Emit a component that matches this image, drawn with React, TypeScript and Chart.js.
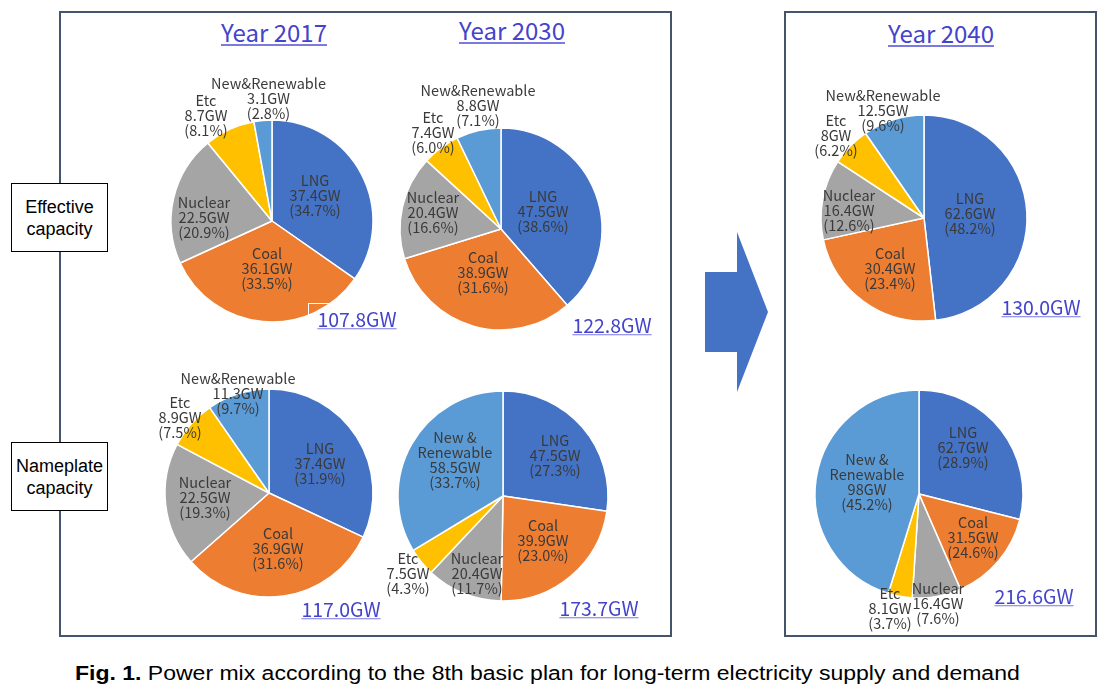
import React, { useEffect, useRef } from "react";
import { Chart, registerables } from "chart.js";

Chart.register(...registerables);

// ---------- DATA ----------
const categoriesShort = ["LNG", "Coal", "Nuclear", "Etc", "New&Renewable"];
const categoriesSplit = ["LNG", "Coal", "Nuclear", "Etc", "New &\nRenewable"];

const eff2017 = [37.4, 36.1, 22.5, 8.7, 3.1];
const eff2017Pct = ["34.7%", "33.5%", "20.9%", "8.1%", "2.8%"];
const eff2030 = [47.5, 38.9, 20.4, 7.4, 8.8];
const eff2030Pct = ["38.6%", "31.6%", "16.6%", "6.0%", "7.1%"];
const eff2040 = [62.6, 30.4, 16.4, 8, 12.5];
const eff2040Pct = ["48.2%", "23.4%", "12.6%", "6.2%", "9.6%"];

const np2017 = [37.4, 36.9, 22.5, 8.9, 11.3];
const np2017Pct = ["31.9%", "31.6%", "19.3%", "7.5%", "9.7%"];
const np2030 = [47.5, 39.9, 20.4, 7.5, 58.5];
const np2030Pct = ["27.3%", "23.0%", "11.7%", "4.3%", "33.7%"];
const np2040 = [62.7, 31.5, 16.4, 8.1, 98];
const np2040Pct = ["28.9%", "24.6%", "7.6%", "3.7%", "45.2%"];

const totals = ["107.8GW", "122.8GW", "130.0GW", "117.0GW", "173.7GW", "216.6GW"];
const yearTitles = ["Year 2017", "Year 2030", "Year 2040"];

const COLORS = ["#4472C4", "#ED7D31", "#A5A5A5", "#FFC000", "#5B9BD5"];

// ---------- LAYOUT ----------
const CANVAS = 330;
const pies = [
  { values: eff2017, pct: eff2017Pct, names: categoriesShort, cx: 271.5, cy: 221, r: 101,
    offs: [[43, -26], [-5, 47], [-68, -4], [-66, -106], [-3.5, -123]], total: [357, 319] },
  { values: eff2030, pct: eff2030Pct, names: categoriesShort, cx: 501, cy: 229, r: 101,
    offs: [[42, -18], [-18, 43], [-68, -17], [-68, -97], [-23, -124]], total: [612, 325] },
  { values: eff2040, pct: eff2040Pct, names: categoriesShort, cx: 924, cy: 218, r: 103,
    offs: [[46, -5], [-34, 50], [-75, -8], [-88, -83], [-41, -108]], total: [1041, 307] },
  { values: np2017, pct: np2017Pct, names: categoriesShort, cx: 269, cy: 493, r: 104,
    offs: [[51, -30], [9, 55], [-64, 4], [-89, -76], [-31, -100]], total: [341, 609] },
  { values: np2030, pct: np2030Pct, names: categoriesSplit, cx: 503, cy: 496, r: 105,
    offs: [[52, -41], [40, 44], [-26, 77], [-95, 77], [-48, -36]], total: [599, 608] },
  { values: np2040, pct: np2040Pct, names: categoriesSplit, cx: 919, cy: 494, r: 104,
    offs: [[44, -47], [54, 43], [19, 109], [-29, 114], [-52, -12]], total: [1034, 596] },
];
const titlePos = [[274, 32], [512, 30], [941, 33]];

const LABEL_FONT = '14.5px "Noto Sans CJK KR", "Noto Sans", sans-serif';
const LINE_H = 15;

function PieChart({ idx }: { idx: number }) {
  const ref = useRef<HTMLCanvasElement | null>(null);
  const p = pies[idx];
  useEffect(() => {
    if (!ref.current) return;
    const labelPlugin = {
      id: "sliceLabels",
      afterDraw(chart: any) {
        const ctx = chart.ctx;
        const meta = chart.getDatasetMeta(0);
        ctx.save();
        ctx.font = LABEL_FONT;
        ctx.fillStyle = "#3a3a3a";
        ctx.textAlign = "center";
        ctx.textBaseline = "middle";
        meta.data.forEach((arc: any, i: number) => {
          const { x, y } = arc.getProps(["x", "y"], true);
          const lines = [
            ...p.names[i].split("\n"),
            String(p.values[i]) + "GW",
            "(" + p.pct[i] + ")",
          ];
          const bx = x + p.offs[i][0];
          const by = y + p.offs[i][1];
          const top = by - ((lines.length - 1) * LINE_H) / 2;
          lines.forEach((t, k) => ctx.fillText(t, bx, top + k * LINE_H));
        });
        ctx.restore();
      },
    };
    const chart = new Chart(ref.current, {
      type: "pie",
      data: {
        labels: p.names,
        datasets: [
          {
            data: p.values,
            backgroundColor: COLORS,
            borderColor: "#ffffff",
            borderWidth: 1.5,
            radius: p.r,
          } as any,
        ],
      },
      options: {
        responsive: false,
        maintainAspectRatio: false,
        animation: false,
        layout: { padding: 0 },
        plugins: { legend: { display: false }, tooltip: { enabled: false } },
      },
      plugins: [labelPlugin],
    });
    return () => chart.destroy();
  }, [idx]);
  return (
    <canvas
      ref={ref}
      width={CANVAS}
      height={CANVAS}
      style={{
        position: "absolute",
        left: p.cx - CANVAS / 2,
        top: p.cy - CANVAS / 2,
        width: CANVAS,
        height: CANVAS,
      }}
    />
  );
}

const linkStyle: React.CSSProperties = {
  position: "absolute",
  color: "#4343CC",
  textDecoration: "underline",
  textDecorationColor: "#7a7ae0",
  fontFamily: '"Noto Sans CJK KR", "Noto Sans", sans-serif',
  whiteSpace: "nowrap",
  transform: "translate(-50%, -50%)",
  lineHeight: 1,
};

const sideBox: React.CSSProperties = {
  position: "absolute",
  left: 11,
  width: 95,
  height: 67,
  border: "1.5px solid #000",
  background: "#fff",
  fontFamily: '"Liberation Sans", Arial, sans-serif',
  fontSize: 18,
  lineHeight: "22px",
  display: "flex",
  alignItems: "center",
  justifyContent: "center",
  textAlign: "center",
  color: "#000",
};

export default function App() {
  return (
    <div
      style={{
        position: "fixed",
        left: 0,
        top: 0,
        width: 1120,
        height: 691,
        background: "#fff",
        overflow: "hidden",
      }}
    >
      {/* vertical connector line */}
      <div style={{ position: "absolute", left: 59, top: 12, width: 2, height: 623, background: "#44546A" }} />
      {/* frames */}
      <div style={{ position: "absolute", left: 59, top: 11, width: 609, height: 622, border: "2px solid #44546A" }} />
      <div style={{ position: "absolute", left: 784, top: 11, width: 309, height: 622, border: "2px solid #44546A" }} />

      <div style={{ ...sideBox, top: 183 }}>Effective<br />capacity</div>
      <div style={{ ...sideBox, top: 442 }}>Nameplate<br />capacity</div>

      <svg style={{ position: "absolute", left: 0, top: 0 }} width={1120} height={691}>
        <polygon
          points="705,272 737,272 737,232 768,312 737,392 737,352 705,352"
          fill="#4472C4"
        />
      </svg>

      {pies.map((_, i) => (
        <PieChart key={i} idx={i} />
      ))}

      {/* white text-box outline artifact over 2017 pie */}
      <div style={{ position: "absolute", left: 308, top: 303, width: 40, height: 20, borderTop: "1px solid #fff", borderLeft: "1px solid #fff" }} />

      {yearTitles.map((t, i) => (
        <div key={t} style={{ ...linkStyle, left: titlePos[i][0], top: titlePos[i][1], fontSize: 24 }}>
          {t}
        </div>
      ))}
      {totals.map((t, i) => (
        <div key={t} style={{ ...linkStyle, left: pies[i].total[0], top: pies[i].total[1], fontSize: 19.5 }}>
          {t}
        </div>
      ))}

      <div
        style={{
          position: "absolute",
          left: 75,
          top: 673,
          transform: "translateY(-50%) scaleX(1.15)",
          transformOrigin: "left center",
          fontFamily: '"Liberation Sans", Arial, sans-serif',
          fontSize: 20,
          color: "#000",
          whiteSpace: "nowrap",
          lineHeight: 1,
        }}
      >
        <b>Fig. 1.</b> Power mix according to the 8th basic plan for long-term electricity supply and demand
      </div>
    </div>
  );
}
